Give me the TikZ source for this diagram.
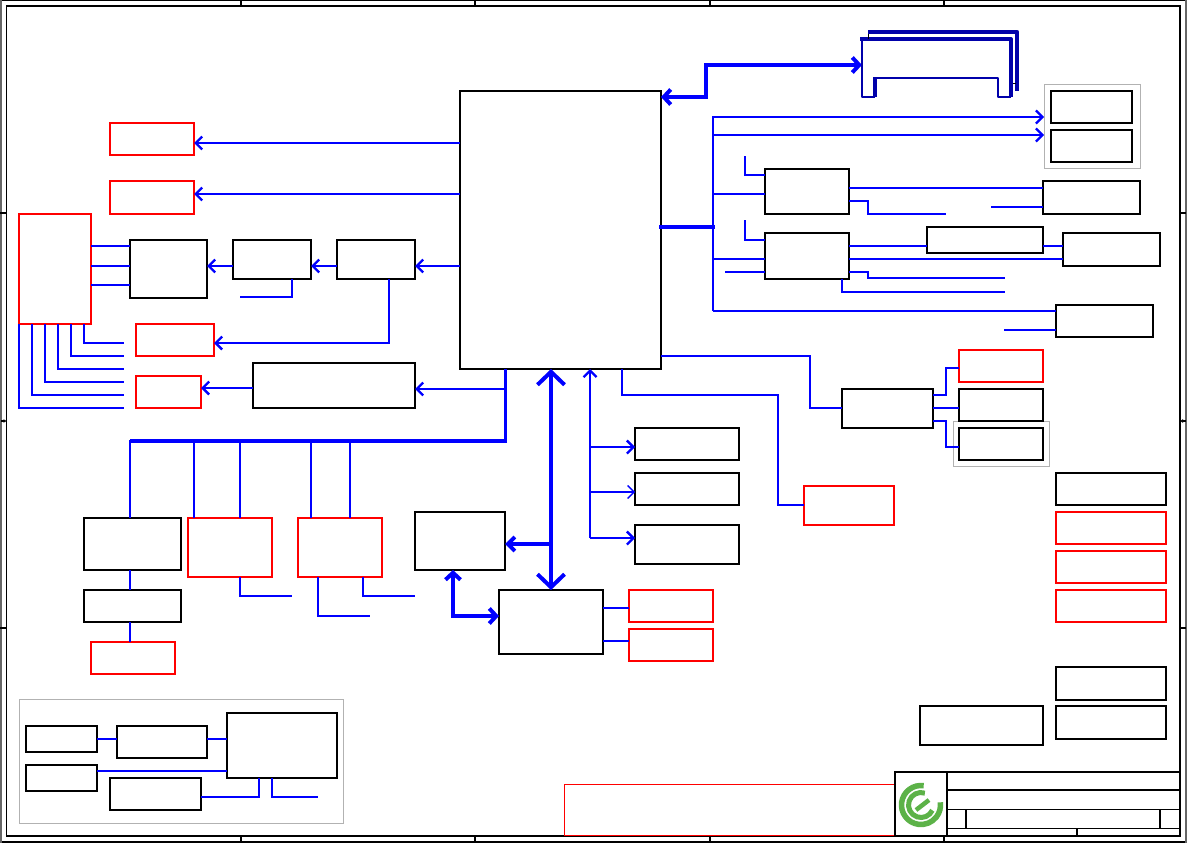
\documentclass[tikz,border=0pt]{standalone}
\usetikzlibrary{arrows.meta}
\definecolor{bus}{RGB}{0,0,255}
\definecolor{dbus}{RGB}{0,0,170}
\definecolor{logo}{RGB}{92,178,72}
\definecolor{redb}{RGB}{255,0,0}
\newcommand{\bx}[6]{%
  \pgfmathsetmacro{\bxw}{#5-#3}\pgfmathsetmacro{\bxh}{#6-#4}%
  \pgfmathsetmacro{\bxx}{(#3+#5)/2}\pgfmathsetmacro{\bxy}{(#4+#6)/2}%
  \node[#2,minimum width=\bxw pt,minimum height=\bxh pt] (#1) at (\bxx,\bxy) {};}
\tikzset{
  bk/.style={draw=black,line width=2.3pt,rectangle,inner sep=0pt,outer sep=0pt,fill=white},
  rd/.style={draw=redb,line width=2.3pt,rectangle,inner sep=0pt,outer sep=0pt,fill=white},
  rdthin/.style={draw=redb,line width=1pt,rectangle,inner sep=0pt,outer sep=0pt},
  gr/.style={draw=black!30,line width=0.8pt,rectangle,inner sep=0pt,outer sep=0pt},
  cell/.style={draw=black,line width=1.4pt,rectangle,inner sep=0pt,outer sep=0pt},
  wr/.style={draw=bus,line width=2.3pt},
  wrthin/.style={draw=bus,line width=1.4pt},
  wrhv/.style={draw=bus,line width=4pt},
  tip/.style={-{Straight Barb[length=6.5pt,width=13pt]}},
  bigtip/.style={{Straight Barb[length=13pt,width=27pt]}-{Straight Barb[length=13pt,width=27pt]}},
  midtip/.style={-{Straight Barb[length=7pt,width=14pt]}},
  dtip/.style={{Straight Barb[length=7pt,width=15pt]}-{Straight Barb[length=7pt,width=15pt]}},
  frame/.style={draw=black,line width=1.4pt},
  sideframe/.style={draw=black!60,line width=2pt},
  dk/.style={draw=dbus,line join=round},
}
\begin{document}
\begin{tikzpicture}[x=1pt,y=-1pt,line join=miter]
\useasboundingbox (0,0) rectangle (1187,843);
% sheet frame
\draw[frame] (0,0.5) -- (1187,0.5) (0,842) -- (1187,842);
\draw[sideframe] (0.5,0) -- (0.5,843) (1186,0) -- (1186,843);
\draw[frame,line width=1.6pt] (6.5,6) rectangle (1180,836);
\foreach \t in {241,475,710,944}{\draw[frame] (\t,0) -- (\t,6) (\t,836) -- (\t,842);}
\foreach \t in {213,628}{\draw[frame] (0,\t) -- (6.5,\t) (1180,\t) -- (1186,\t);}
\draw[frame,-{Latex[length=3pt,width=4pt]}] (1,421) -- (6.5,421);
\draw[frame,-{Latex[length=3pt,width=4pt]}] (1186,421) -- (1180,421);
% grey groups
\bx{gtop}{gr}{1044}{84.5}{1140}{168}
\bx{gmid}{gr}{953}{421}{1049}{466}
\bx{gbot}{gr}{19.5}{699.5}{343}{823}
% boxes
\bx{cpu}{bk}{460}{91}{661}{369}
\bx{ra}{rd}{110}{123}{194}{155}
\bx{rb}{rd}{110}{181}{194}{214}
\bx{bigred}{rd}{19}{214}{91}{324}
\bx{ba}{bk}{130}{240}{207}{298}
\bx{bb}{bk}{233}{240}{311}{279}
\bx{bc}{bk}{337}{240}{415}{279}
\bx{rc}{rd}{136}{324}{214}{356}
\bx{rd1}{rd}{136}{376}{201}{408}
\bx{bd}{bk}{253}{363}{415}{408}
\bx{be}{bk}{84}{518}{181}{570}
\bx{bf}{bk}{84}{590}{181}{622}
\bx{re}{rd}{91}{642}{175}{674}
\bx{rf}{rd}{188}{518}{272}{577}
\bx{rg}{rd}{298}{518}{382}{577}
\bx{bg}{bk}{415}{512}{505}{570}
\bx{bh}{bk}{499}{590}{603}{654}
\bx{rh}{rd}{629}{590}{713}{622}
\bx{ri}{rd}{629}{629}{713}{661}
\bx{bi}{bk}{635}{428}{739}{460}
\bx{bj}{bk}{635}{473}{739}{505}
\bx{bk1}{bk}{635}{525}{739}{564}
\bx{rj}{rd}{804}{486}{894}{525}
\bx{bl}{bk}{842}{389}{933}{428}
\bx{rk}{rd}{959}{350}{1043}{382}
\bx{bm}{bk}{959}{389}{1043}{421}
\bx{bn}{bk}{959}{428}{1043}{460}
\bx{bo}{bk}{1056}{473}{1166}{505}
\bx{rl}{rd}{1056}{512}{1166}{544}
\bx{rm}{rd}{1056}{551}{1166}{583}
\bx{rn}{rd}{1056}{590}{1166}{622}
\bx{bp}{bk}{1056}{667}{1166}{700}
\bx{bq}{bk}{1056}{706}{1166}{739}
\bx{br}{bk}{920}{706}{1043}{745}
\bx{bs}{bk}{1051}{91}{1132}{123}
\bx{bt}{bk}{1051}{130}{1132}{162}
\bx{bu}{bk}{765}{169}{849}{214}
\bx{bv}{bk}{765}{233}{849}{279}
\bx{bw}{bk}{1043}{181}{1140}{214}
\bx{bx1}{bk}{927}{227}{1043}{253}
\bx{by}{bk}{1063}{233}{1160}{266}
\bx{bz}{bk}{1056}{305}{1153}{337}
\bx{ca}{bk}{26}{726}{97}{752}
\bx{cb}{bk}{117}{726}{207}{758}
\bx{cc}{bk}{227}{713}{337}{778}
\bx{cd}{bk}{26}{765}{97}{791}
\bx{ce}{bk}{110}{778}{201}{810}
% free ends
\coordinate (f1) at (124,343);\coordinate (f2) at (124,356);\coordinate (f3) at (124,369);
\coordinate (f4) at (124,382);\coordinate (f5) at (124,395);\coordinate (f6) at (124,408);
\coordinate (f7) at (240,297);\coordinate (f8) at (292,596);\coordinate (f9) at (370,616);
\coordinate (f10) at (415,596);\coordinate (f11) at (318,797);
\coordinate (f12) at (745,156);\coordinate (f13) at (745,220);\coordinate (f14) at (725,272);
\coordinate (f15) at (946,214);\coordinate (f16) at (991,207);\coordinate (f17) at (1005,278);
\coordinate (f18) at (1005,292);\coordinate (f19) at (1004,330);
\coordinate (busj) at (505,440.5);\coordinate (busl) at (130,440.5);
\coordinate (hub) at (715,227);
% left side
\draw[wr,tip] (cpu.west |- 0,143) -- (ra.east |- 0,143);
\draw[wr,tip] (cpu.west |- 0,194) -- (rb.east |- 0,194);
\draw[wr,tip] (cpu.west |- 0,266) -- (bc.east |- 0,266);
\draw[wr,tip] (bc.west |- 0,266) -- (bb.east |- 0,266);
\draw[wr,tip] (bb.west |- 0,266) -- (ba.east |- 0,266);
\foreach \y in {246,266,285}{\draw[wr] (bigred.east |- 0,\y) -- (ba.west |- 0,\y);}
\draw[wr,tip] (bc.south -| 389,0) -- (389,343) -- (rc.east |- 0,343);
\draw[wr] (bb.south -| 292,0) -- (292,297) -- (f7);
\draw[wr] (bigred.south -| 84,0) -- (84,343) -- (f1);
\draw[wr] (bigred.south -| 71,0) -- (71,356) -- (f2);
\draw[wr] (bigred.south -| 58,0) -- (58,369) -- (f3);
\draw[wr] (bigred.south -| 45,0) -- (45,382) -- (f4);
\draw[wr] (bigred.south -| 32,0) -- (32,395) -- (f5);
\draw[wr] (bigred.south -| 19,0) -- (19,408) -- (f6);
\draw[wr,tip] (bd.west |- 0,388) -- (rd1.east |- 0,388);
\draw[wr,tip] (505.5,389) -- (bd.east |- 0,389);
\draw[draw=bus,line width=3pt] (cpu.south -| 505.5,0) -- (505.5,440);
\draw[wrhv] (busj) ++(2,0) -- (busl);
\draw[wr] (be.north -| 130,0) -- (130,440);
\draw[wr] (rf.north -| 194,0) -- (194,440);
\draw[wr] (rf.north -| 240,0) -- (240,440);
\draw[wr] (rg.north -| 311,0) -- (311,440);
\draw[wr] (rg.north -| 350,0) -- (350,440);
\draw[wr] (be.south -| 130,0) -- (bf.north -| 130,0);
\draw[wr] (bf.south -| 130,0) -- (re.north -| 130,0);
\draw[wr] (rf.south -| 240,0) -- (240,596) -- (f8);
\draw[wrthin] (rg.south -| 318,0) -- (318,616) -- (f9);
\draw[wr] (rg.south -| 363,0) -- (363,596) -- (f10);
% centre
\draw[wrhv,bigtip] (cpu.south -| 551,0) -- (bh.north -| 551,0);
\draw[wrhv,midtip] (551,544) -- (bg.east |- 0,544);
\draw[wrhv,dtip] (bg.south -| 453,0) -- (453,616) -- (bh.west |- 0,616);
\draw[wr] (bh.east |- 0,608) -- (rh.west |- 0,608);
\draw[wrthin] (bh.east |- 0,641) -- (ri.west |- 0,641);
\draw[wr,-{Straight Barb[length=6.5pt,width=13pt]}] (590,538) -- (cpu.south -| 590,0);
\draw[wr,tip] (590,447) -- (bi.west |- 0,447);
\draw[wrthin,tip] (590,492) -- (bj.west |- 0,492);
\draw[wr,tip] (590,538) -- (bk1.west |- 0,538);
\draw[wr] (cpu.south -| 622,0) -- (622,395) -- (778,395) -- (778,505) -- (rj.west |- 0,505);
\draw[wr] (cpu.east |- 0,356) -- (810,356) -- (810,408) -- (bl.west |- 0,408);
\draw[wr] (bl.east |- 0,395) -- (946,395) -- (946,368) -- (rk.west |- 0,368);
\draw[wr] (bl.east |- 0,408) -- (bm.west |- 0,408);
\draw[wr] (bl.east |- 0,421) -- (946,421) -- (946,447) -- (bn.west |- 0,447);
% right side
\draw[draw=bus,line width=3.5pt] (659,227) -- (hub);
\draw[wr,tip] (713,311) -- (713,117) -- (gtop.west |- 0,117);
\draw[wr,tip] (713,135) -- (gtop.west |- 0,135);
\draw[wr] (713,194) -- (bu.west |- 0,194);
\draw[wr] (713,259) -- (bv.west |- 0,259);
\draw[wr] (f12) -- (745,175) -- (bu.west |- 0,175);
\draw[wr] (f13) -- (745,240) -- (bv.west |- 0,240);
\draw[wr] (f14) -- (bv.west |- 0,272);
\draw[wr] (bu.east |- 0,188) -- (bw.west |- 0,188);
\draw[wr] (bu.east |- 0,201) -- (868,201) -- (868,214) -- (f15);
\draw[wr] (f16) -- (bw.west |- 0,207);
\draw[wr] (bv.east |- 0,246) -- (bx1.west |- 0,246);
\draw[wr] (bx1.east |- 0,246) -- (by.west |- 0,246);
\draw[wr] (bv.east |- 0,259) -- (by.west |- 0,259);
\draw[wr] (bv.east |- 0,272) -- (868,272) -- (868,278) -- (f17);
\draw[wr] (bv.south -| 842,0) -- (842,292) -- (f18);
\draw[wr] (713,311) -- (bz.west |- 0,311);
\draw[wrthin] (f19) -- (bz.west |- 0,330);
% top bus
\draw[wrhv,line join=miter,{Straight Barb[length=7pt,width=15pt]}-{Straight Barb[length=7pt,width=15pt]}] (cpu.east |- 0,97) -- (706,97) -- (706,65) -- (862,65);
\draw[dk,line width=2pt] (862,39) -- (862,97) -- (875,97);
\draw[dk,line width=3.5pt] (875,97) -- (875,77);
\draw[dk,line width=2pt] (875,78) -- (998,78) -- (998,97) -- (1011,97);
\draw[dk,line width=4pt] (860,39) -- (1011,39) -- (1011,97);
\draw[dk,line width=4.5pt] (868,32) -- (1017,32) -- (1017,91);
\draw[draw=black,line width=1pt] (868,34) -- (868,39) (1013,84) -- (1016,84);
% title block
\bx{notice}{rdthin}{564.5}{784.5}{894.5}{835.5}
\bx{tlogo}{cell}{895}{772}{947}{835.5}
\bx{ta}{cell}{947}{772}{1180}{790}
\bx{tb}{cell}{947}{790}{1180}{809.5}
\bx{tc}{cell}{947}{809.5}{966}{828.5}
\bx{td}{cell}{966}{809.5}{1160}{828.5}
\bx{te}{cell}{1160}{809.5}{1180}{828.5}
\bx{tf}{cell}{947}{828.5}{1077}{835.5}
\bx{tg}{cell}{1077}{828.5}{1180}{835.5}
% lower-left group
\draw[wr] (ca.east |- 0,739) -- (cb.west |- 0,739);
\draw[wr] (cb.east |- 0,739) -- (cc.west |- 0,739);
\draw[wr] (cd.east |- 0,771) -- (cc.west |- 0,771);
\draw[wr] (ce.east |- 0,797) -- (259,797) -- (cc.south -| 259,0);
\draw[wr] (cc.south -| 272,0) -- (272,797) -- (f11);
% logo
\begin{scope}[shift={(921,805)},x=1pt,y=1pt]
\draw[logo,line width=5.5pt] (82:19.5pt) arc[start angle=82,end angle=368,radius=19.5pt];
\draw[logo,line width=5pt] (72:12.5pt) arc[start angle=72,end angle=335,radius=12.5pt];
\draw[logo,line width=4.5pt] (-5,-5) -- (8,5);
\end{scope}
\end{tikzpicture}
\end{document}
